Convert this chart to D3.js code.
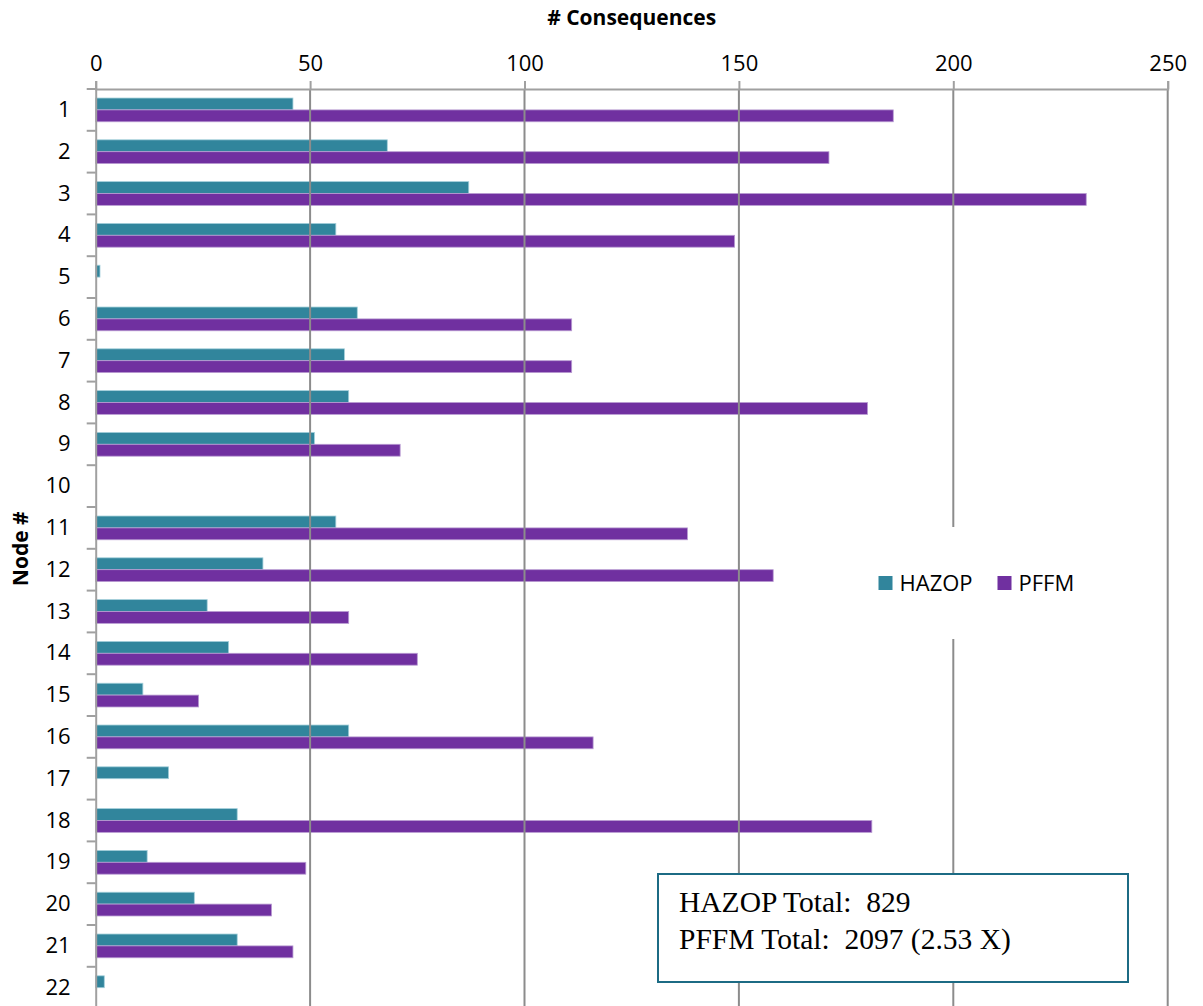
<!DOCTYPE html>
<html>
<head>
<meta charset="utf-8">
<script src="https://cdn.jsdelivr.net/npm/d3@7"></script>
<style>
  html, body { margin: 0; padding: 0; background: #fff; }
  svg { display: block; }
</style>
</head>
<body>
<svg id="chart" width="1203" height="1006"></svg>
<script>
// Consequences identified per node: HAZOP vs PFFM
const nodes = ["1","2","3","4","5","6","7","8","9","10","11","12","13","14","15","16","17","18","19","20","21","22"];
const hazop = [46, 68, 87, 56, 1, 61, 58, 59, 51, 0, 56, 39, 26, 31, 11, 59, 17, 33, 12, 23, 33, 2];
const pffm  = [186, 171, 231, 149, 0, 111, 111, 180, 71, 0, 138, 158, 59, 75, 24, 116, 0, 181, 49, 41, 46, 0];
const seriesNames = ["HAZOP", "PFFM"];
const seriesColors = ["#31859c", "#7030a0"];
const seriesStrokes = ["#a3cfda", "#b89bd2"];
const xTicks = [0, 50, 100, 150, 200, 250];
const xTitle = "# Consequences";
const yTitle = "Node #";
const totalLines = ["HAZOP Total:  829", "PFFM Total:  2097 (2.53 X)"];

const svg = d3.select("#chart");
const sans = "'Open Sans', 'Noto Sans', sans-serif";

const plotLeft = 95.7, plotRight = 1167.7, plotTop = 89, step = 41.8;
const plotBottom = plotTop + step * nodes.length;

const x = d3.scaleLinear().domain([0, 250]).range([plotLeft, plotRight]);
const y = d3.scaleBand().domain(nodes).range([plotTop, plotBottom]).padding(0);
const ySub = d3.scaleBand().domain(seriesNames).range([0, y.bandwidth()]).paddingInner(0).paddingOuter(0.76);

const rows = nodes.map((n, i) => ({ node: n, values: [hazop[i], pffm[i]] }));

// Bars
const groups = svg.append("g").selectAll("g").data(rows).join("g")
  .attr("transform", d => `translate(0,${y(d.node)})`);
groups.selectAll("rect")
  .data(d => d.values.map((v, k) => ({ v, k })).filter(e => e.v > 0))
  .join("rect")
  .attr("x", x(0))
  .attr("y", e => ySub(seriesNames[e.k]))
  .attr("width", e => x(e.v) - x(0))
  .attr("height", ySub.bandwidth())
  .attr("fill", e => seriesColors[e.k])
  .attr("stroke", e => seriesStrokes[e.k])
  .attr("stroke-width", 0.8);

// Vertical gridlines
svg.append("g").selectAll("line").data(xTicks.filter(t => t > 0)).join("line")
  .attr("x1", d => x(d)).attr("x2", d => x(d))
  .attr("y1", plotTop).attr("y2", plotBottom)
  .attr("stroke", "#8c8c8c").attr("stroke-width", 2);

// Top value axis
const xAxis = svg.append("g").attr("transform", `translate(0,${plotTop})`)
  .call(d3.axisTop(x).tickValues(xTicks).tickSize(8).tickPadding(10).tickFormat(d3.format("d")));
xAxis.select(".domain").attr("stroke", "#a0a0a0").attr("stroke-width", 2);
xAxis.selectAll(".tick line").attr("stroke", "#a0a0a0").attr("stroke-width", 2);
xAxis.selectAll("text").attr("font-family", sans).attr("font-size", 22).attr("fill", "#000");

// Left category axis: ticks sit on the band boundaries
const yAxis = svg.append("g").attr("transform", `translate(${plotLeft},0)`)
  .call(d3.axisLeft(y).tickSize(0).tickPadding(25));
yAxis.select(".domain").attr("stroke", "#a0a0a0").attr("stroke-width", 2);
yAxis.selectAll("text").attr("font-family", sans).attr("font-size", 22).attr("fill", "#000");
svg.append("g").selectAll("line").data(nodes).join("line")
  .attr("x1", plotLeft - 9).attr("x2", plotLeft)
  .attr("y1", d => y(d)).attr("y2", d => y(d))
  .attr("stroke", "#a0a0a0").attr("stroke-width", 2);

// Axis titles
svg.append("text").attr("x", (plotLeft + plotRight) / 2).attr("y", 25)
  .attr("text-anchor", "middle").attr("font-family", sans).attr("font-weight", "bold")
  .attr("font-size", 21).text(xTitle);
svg.append("text").attr("transform", `translate(28,${(plotTop + plotBottom) / 2}) rotate(-90)`)
  .attr("text-anchor", "middle").attr("font-family", sans).attr("font-weight", "bold")
  .attr("font-size", 21).text(yTitle);

// Legend
const legend = svg.append("g");
legend.append("rect").attr("x", 862).attr("y", 527).attr("width", 230).attr("height", 112).attr("fill", "#fff");
const legendX = [878.5, 997.5];
seriesNames.forEach((name, k) => {
  legend.append("rect").attr("x", legendX[k]).attr("y", 576).attr("width", 14).attr("height", 14)
    .attr("fill", seriesColors[k]);
  legend.append("text").attr("x", legendX[k] + 21).attr("y", 591)
    .attr("font-family", sans).attr("font-size", 22).attr("fill", "#000").text(name);
});

// Totals box
const box = svg.append("g");
box.append("rect").attr("x", 658).attr("y", 874).attr("width", 470).attr("height", 108)
  .attr("fill", "#fff").attr("stroke", "#1c6b84").attr("stroke-width", 2);
box.selectAll("text").data(totalLines).join("text")
  .attr("x", 679).attr("y", (d, i) => 912 + i * 37)
  .attr("font-family", "'Liberation Serif', 'DejaVu Serif', serif")
  .attr("font-size", 29.5).attr("fill", "#000")
  .style("white-space", "pre").text(d => d);
</script>
</body>
</html>
